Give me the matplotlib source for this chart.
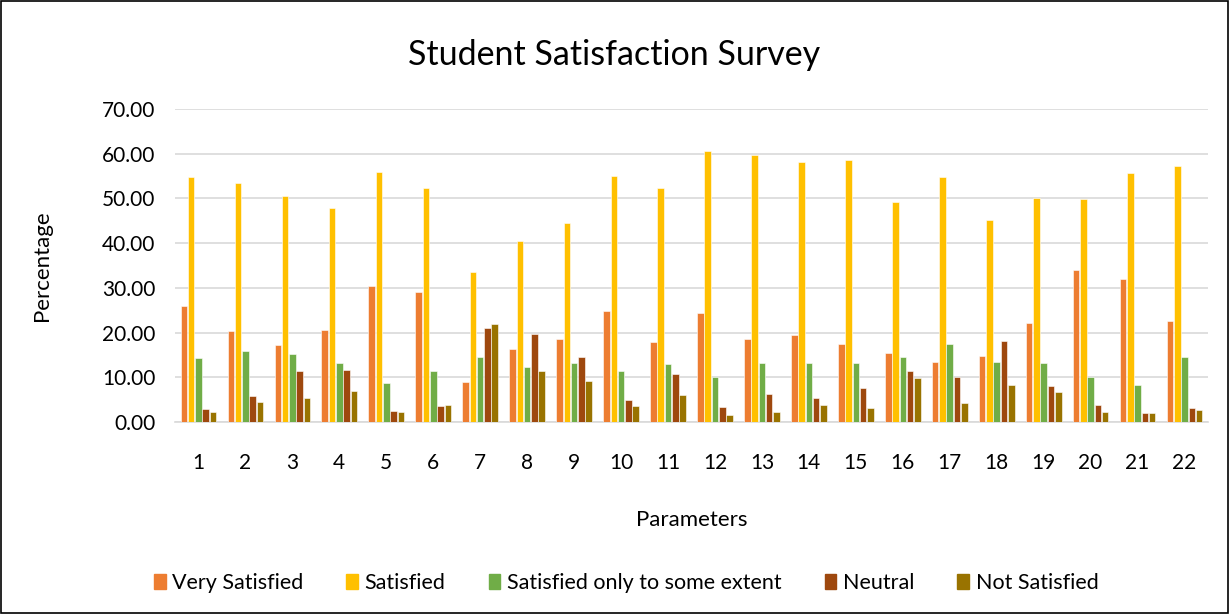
import matplotlib
matplotlib.use("Agg")
import matplotlib.pyplot as plt
import numpy as np
from matplotlib.patches import Rectangle

plt.rcParams['font.family'] = ['Lato', 'DejaVu Sans']

categories = [str(i) for i in range(1, 23)]
very_satisfied = [26.0, 20.4, 17.3, 20.6, 30.5, 29.1, 9.0, 16.4, 18.5, 24.9, 17.8,
                  24.4, 18.6, 19.5, 17.5, 15.4, 13.5, 14.8, 22.1, 34.0, 32.0, 22.5]
satisfied = [54.7, 53.4, 50.6, 47.9, 56.0, 52.3, 33.5, 40.5, 44.6, 55.1, 52.3,
             60.7, 59.7, 58.2, 58.7, 49.1, 54.8, 45.2, 50.2, 49.9, 55.6, 57.2]
some_extent = [14.3, 15.9, 15.3, 13.1, 8.8, 11.3, 14.6, 12.3, 13.1, 11.5, 12.9,
               10.0, 13.2, 13.3, 13.2, 14.5, 17.5, 13.4, 13.1, 10.0, 8.3, 14.5]
neutral = [2.8, 5.8, 11.4, 11.6, 2.5, 3.6, 21.0, 19.6, 14.5, 4.9, 10.8,
           3.3, 6.3, 5.3, 7.5, 11.3, 10.0, 18.2, 8.1, 3.9, 2.1, 3.2]
not_satisfied = [2.2, 4.4, 5.4, 6.9, 2.3, 3.7, 21.9, 11.3, 9.2, 3.6, 6.1,
                 1.6, 2.3, 3.8, 3.1, 9.8, 4.2, 8.2, 6.7, 2.2, 2.1, 2.6]
series_names = ["Very Satisfied", "Satisfied", "Satisfied only to some extent",
                "Neutral", "Not Satisfied"]
colors = ["#ED7D31", "#FFC000", "#70AD47", "#9E480E", "#997300"]

fig = plt.figure(figsize=(12.29, 6.14), dpi=100)
ax = fig.add_axes([175/1229, 1 - 422/614, (1208-175)/1229, (422-109)/614])

x = np.arange(len(categories))
w = 0.14
step = 0.155
data = [very_satisfied, satisfied, some_extent, neutral, not_satisfied]
for i, (vals, c, name) in enumerate(zip(data, colors, series_names)):
    ax.bar(x + (i - 2) * step, vals, width=w, color=c, label=name,
           edgecolor='white', linewidth=0.4, zorder=3)

ax.set_xlim(-0.5, len(categories) - 0.5)
ax.set_ylim(0, 70)
ax.set_yticks(np.arange(0, 71, 10))
ax.set_yticklabels([f"{v:.2f}" for v in np.arange(0, 71, 10)], fontsize=15)
ax.set_xticks(x)
ax.set_xticklabels(categories, fontsize=15)
ax.grid(axis='y', color='#D9D9D9', linewidth=1.2, zorder=0)
for s in ['top', 'right', 'left']:
    ax.spines[s].set_visible(False)
ax.spines['bottom'].set_color('#D9D9D9')
ax.spines['bottom'].set_linewidth(1.2)
ax.tick_params(axis='y', length=0, pad=14)
ax.tick_params(axis='x', length=0, pad=22)

ax.set_ylabel("Percentage", fontsize=16, labelpad=36)
ax.set_xlabel("Parameters", fontsize=16, labelpad=27)
fig.text(0.5, 1 - 55/614, "Student Satisfaction Survey", ha='center', va='center', fontsize=24.5)

handles = [Rectangle((0, 0), 1, 1, color=c) for c in colors]
fig.legend(handles, series_names, loc='center', bbox_to_anchor=(626/1229, 1 - 583/614),
           ncol=5, frameon=False, fontsize=15.5, handlelength=0.55, handleheight=0.7,
           columnspacing=2.0, handletextpad=0.3)

fig.patches.append(Rectangle((0.001, 0.001), 0.998, 0.998, transform=fig.transFigure,
                             fill=False, edgecolor='black', linewidth=1.2))

fig.savefig("out.png", dpi=100)
